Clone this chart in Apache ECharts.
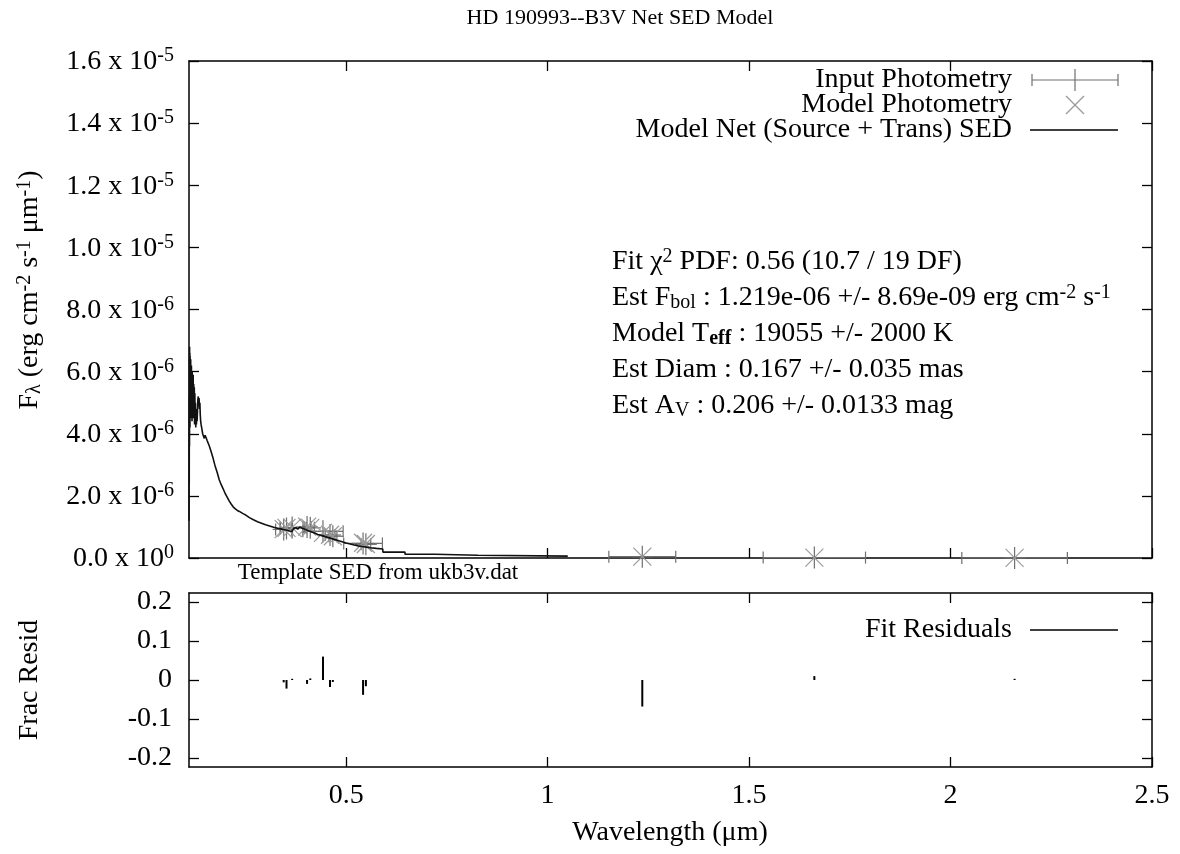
<!DOCTYPE html>
<html>
<head>
<meta charset="utf-8">
<script src="https://cdn.jsdelivr.net/npm/echarts/dist/echarts.min.js"></script>
<style>html,body{margin:0;padding:0;background:#fff}#c{width:1180px;height:854px}</style>
</head>
<body>
<div id="c"></div>
<script>
// ---------- DATA ----------
// Model net SED (wavelength in micron, flux in units of 1e-6 erg cm^-2 s^-1 um^-1)
const sedLam = [0.1100,0.1103,0.1106,0.1109,0.1112,0.1115,0.1118,0.1121,0.1124,0.1127,0.1130,0.1134,0.1138,0.1142,0.1146,0.1150,0.1155,0.1160,0.1165,0.1170,0.1175,0.1180,0.1186,0.1192,0.1198,0.1204,0.1210,0.1217,0.1224,0.1231,0.1238,0.1245,0.1252,0.1260,0.1268,0.1276,0.1284,0.1292,0.1300,0.1310,0.1320,0.1330,0.1340,0.1350,0.1360,0.1370,0.1380,0.1390,0.1400,0.1420,0.1440,0.1460,0.1480,0.150,0.155,0.160,0.165,0.170,0.175,0.180,0.185,0.190,0.195,0.200,0.205,0.210,0.215,0.220,0.225,0.230,0.235,0.240,0.245,0.250,0.260,0.270,0.280,0.290,0.300,0.310,0.320,0.330,0.340,0.350,0.360,0.365,0.370,0.375,0.380,0.385,0.390,0.395,0.400,0.410,0.420,0.430,0.440,0.450,0.460,0.470,0.480,0.490,0.500,0.510,0.520,0.530,0.540,0.550,0.560,0.575,0.591,0.5911,0.646,0.6461,0.720,0.7201,0.827,0.8271,1.050];
const sedFlux = [1.2,5.2,2.4,6.4,3.6,6.8,4.6,6.6,4.2,6.5,4.8,6.3,4.5,6.4,4.9,6.1,4.6,6.2,4.8,5.9,4.4,6.0,4.7,5.8,4.5,5.9,4.7,5.6,4.5,5.5,4.3,5.3,4.4,5.0,4.2,4.8,4.3,4.6,4.4,4.7,5.1,5.2,4.9,5.15,4.8,5.0,4.6,4.4,4.3,4.15,4.0,3.92,3.85,3.95,3.78,3.62,3.42,3.20,2.95,2.75,2.52,2.36,2.22,2.07,1.95,1.83,1.73,1.64,1.58,1.53,1.50,1.46,1.42,1.39,1.30,1.23,1.17,1.12,1.07,1.03,0.99,0.96,0.93,0.90,0.87,0.85,0.95,0.98,0.93,1.00,0.96,0.94,0.91,0.86,0.81,0.76,0.72,0.68,0.64,0.60,0.56,0.52,0.48,0.45,0.42,0.39,0.37,0.35,0.33,0.31,0.29,0.19,0.19,0.12,0.12,0.09,0.09,0.06,0.06];

// Photometry
const photLam   = [0.345, 0.352, 0.366, 0.403, 0.411, 0.4425, 0.460, 0.467, 0.542, 0.549, 1.235, 1.662, 2.159];
const photXErr  = [0.020, 0.015, 0.030, 0.010, 0.010, 0.050,  0.012, 0.010, 0.048, 0.012, 0.083, 0.127, 0.131];
const inputFlux = [0.92,  0.95,  0.98,  1.00,  0.97,  0.86,   0.74,  0.70,  0.47,  0.44,  0.042, 0.013, 0.004];
const modelFlux = [0.93,  0.97,  0.98,  1.01,  0.97,  0.81,   0.75,  0.70,  0.49,  0.45,  0.045, 0.013, 0.004];
const fracResid = [-0.006,-0.022, 0.003,-0.010, 0.004, 0.060, -0.018,-0.005,-0.038,-0.016,-0.068, 0.010, 0.003];

// Tick labels
const waveTicks = [0.5, 1, 1.5, 2, 2.5];
const waveTickLabels = ['0.5', '1', '1.5', '2', '2.5'];
const fluxTicks = [0, 2, 4, 6, 8, 10, 12, 14, 16];
const fluxTickMant = ['0.0', '2.0', '4.0', '6.0', '8.0', '1.0', '1.2', '1.4', '1.6'];
const fluxTickExp  = ['0', '-6', '-6', '-6', '-6', '-5', '-5', '-5', '-5'];
const residTicks = [-0.2, -0.1, 0, 0.1, 0.2];
const residTickLabels = ['-0.2', '-0.1', '0', '0.1', '0.2'];

// ---------- CHART ----------
const FONT = '"Liberation Serif", "DejaVu Serif", serif';
const FS = 28, FSS = 20;
const chart = echarts.init(document.getElementById('c'));

function axisBase(extra) {
  return Object.assign({
    type: 'value',
    axisLine: { show: true, onZero: false, lineStyle: { color: '#000', width: 1.5 } },
    axisTick: { show: true, inside: true, length: 10, lineStyle: { color: '#000', width: 1.3 } },
    splitLine: { show: false },
    minorTick: { show: false },
    axisLabel: { show: false }
  }, extra);
}
const xMin = 0.11, xMax = 2.5;
const xTickCfg = { show: true, inside: true, length: 10, customValues: waveTicks, lineStyle: { color: '#000', width: 1.3 } };

const richBase = {
  n: { fontFamily: FONT, fontSize: FS, fill: '#000', color: '#000', lineHeight: 30, verticalAlign: 'middle' },
  sup: { fontFamily: FONT, fontSize: FSS, fill: '#000', color: '#000', lineHeight: 22, padding: [0, 0, 17, 0], verticalAlign: 'top' },
  sub: { fontFamily: FONT, fontSize: FSS, fill: '#000', color: '#000', lineHeight: 22, padding: [17, 0, 0, 0], verticalAlign: 'bottom' },
  subb: { fontFamily: FONT, fontSize: FSS, fontWeight: 'bold', fill: '#000', color: '#000', lineHeight: 22, padding: [17, 0, 0, 0], verticalAlign: 'bottom' },
  t: { fontFamily: FONT, fontSize: 23, fill: '#000', color: '#000', lineHeight: 26, verticalAlign: 'middle' }
};

function txt(x, y, text, align, extra) {
  return Object.assign({
    type: 'text', x: x, y: y, silent: true,
    style: { text: text, rich: richBase, fill: '#000', font: FS + 'px ' + FONT, textAlign: align || 'left', textVerticalAlign: 'middle' }
  }, extra || {});
}
function gline(x1, y1, x2, y2, color, w) {
  return { type: 'line', silent: true, shape: { x1: x1, y1: y1, x2: x2, y2: y2 }, style: { stroke: color, lineWidth: w } };
}

const GRAY_IN = '#6f6f6f', GRAY_MOD = '#9a9a9a';

const option = {
  animation: false,
  backgroundColor: '#fff',
  grid: [
    { left: 189, top: 61, width: 963, height: 497 },
    { left: 189, top: 593, width: 963, height: 174 }
  ],
  xAxis: [
    axisBase({ gridIndex: 0, position: 'bottom', min: xMin, max: xMax, axisTick: xTickCfg }),
    axisBase({ gridIndex: 0, position: 'top', min: xMin, max: xMax, axisTick: xTickCfg }),
    axisBase({ gridIndex: 1, position: 'bottom', min: xMin, max: xMax, axisTick: xTickCfg,
      axisLabel: { show: true, customValues: waveTicks, margin: 15, fontFamily: FONT, fontSize: FS, color: '#000',
        formatter: function (v) { const i = waveTicks.findIndex(t => Math.abs(t - v) < 1e-9); return i >= 0 ? waveTickLabels[i] : ''; } } }),
    axisBase({ gridIndex: 1, position: 'top', min: xMin, max: xMax, axisTick: xTickCfg })
  ],
  yAxis: [
    axisBase({ gridIndex: 0, position: 'left', min: 0, max: 16, interval: 2,
      axisLabel: { show: true, margin: 15, align: 'right',
        formatter: function (v) { const i = fluxTicks.findIndex(t => Math.abs(t - v) < 1e-9); return i >= 0 ? '{m|' + fluxTickMant[i] + ' x 10}{s|' + fluxTickExp[i] + '}' : ''; },
        rich: {
          m: { fontFamily: FONT, fontSize: FS, color: '#000', lineHeight: 30, verticalAlign: 'bottom' },
          s: { fontFamily: FONT, fontSize: FSS, color: '#000', lineHeight: 22, padding: [0, 0, 14, 0], verticalAlign: 'top' }
        } } }),
    axisBase({ gridIndex: 0, position: 'right', min: 0, max: 16, interval: 2 }),
    axisBase({ gridIndex: 1, position: 'left', min: -0.223, max: 0.223,
      axisTick: { show: true, inside: true, length: 10, customValues: residTicks, lineStyle: { color: '#000', width: 1.3 } },
      axisLabel: { show: true, customValues: residTicks, margin: 17, fontFamily: FONT, fontSize: FS, color: '#000',
        formatter: function (v) { const i = residTicks.findIndex(t => Math.abs(t - v) < 1e-9); return i >= 0 ? residTickLabels[i] : ''; } } }),
    axisBase({ gridIndex: 1, position: 'right', min: -0.223, max: 0.223,
      axisTick: { show: true, inside: true, length: 10, customValues: residTicks, lineStyle: { color: '#000', width: 1.3 } } })
  ],
  series: [
    { // Input photometry: horizontal error bars with caps + plus point
      type: 'custom', xAxisIndex: 0, yAxisIndex: 0, clip: false, z: 2,
      data: photLam.map((l, i) => [l, inputFlux[i], photXErr[i]]),
      encode: { x: 0, y: 1 },
      renderItem: function (params, api) {
        const x = api.value(0), y = api.value(1), e = api.value(2);
        const c = api.coord([x, y]), l = api.coord([x - e, y]), r = api.coord([x + e, y]);
        const st = { stroke: GRAY_IN, lineWidth: 1.2 };
        return { type: 'group', children: [
          { type: 'line', shape: { x1: l[0], y1: l[1], x2: r[0], y2: r[1] }, style: st },
          { type: 'line', shape: { x1: l[0], y1: l[1] - 6, x2: l[0], y2: l[1] + 6 }, style: st },
          { type: 'line', shape: { x1: r[0], y1: r[1] - 6, x2: r[0], y2: r[1] + 6 }, style: st },
          { type: 'line', shape: { x1: c[0], y1: c[1] - 11, x2: c[0], y2: c[1] + 11 }, style: st },
          { type: 'line', shape: { x1: c[0] - 11, y1: c[1], x2: c[0] + 11, y2: c[1] }, style: st }
        ] };
      }
    },
    { // Model photometry: x marks
      type: 'custom', xAxisIndex: 0, yAxisIndex: 0, clip: false, z: 3,
      data: photLam.map((l, i) => [l, modelFlux[i]]),
      encode: { x: 0, y: 1 },
      renderItem: function (params, api) {
        const c = api.coord([api.value(0), api.value(1)]);
        const s = 9, st = { stroke: GRAY_MOD, lineWidth: 1.2 };
        return { type: 'group', children: [
          { type: 'line', shape: { x1: c[0] - s, y1: c[1] - s, x2: c[0] + s, y2: c[1] + s }, style: st },
          { type: 'line', shape: { x1: c[0] - s, y1: c[1] + s, x2: c[0] + s, y2: c[1] - s }, style: st }
        ] };
      }
    },
    { // Model net SED
      type: 'line', xAxisIndex: 0, yAxisIndex: 0, z: 4,
      data: sedLam.map((l, i) => [l, sedFlux[i]]),
      showSymbol: false, symbol: 'none', smooth: false,
      lineStyle: { color: '#111', width: 1.6 }
    },
    { // Fit residuals: impulses
      type: 'custom', xAxisIndex: 2, yAxisIndex: 2, clip: true, z: 4,
      data: photLam.map((l, i) => [l, fracResid[i]]),
      encode: { x: 0, y: 1 },
      renderItem: function (params, api) {
        const x = api.value(0), y = api.value(1);
        const a = api.coord([x, 0]), b = api.coord([x, y]);
        return { type: 'line', shape: { x1: a[0], y1: a[1], x2: b[0], y2: b[1] }, style: { stroke: '#000', lineWidth: 2 } };
      }
    }
  ],
  graphic: [
    { type: 'text', x: 620, y: 18, silent: true, style: { text: 'HD 190993--B3V Net SED Model', fill: '#000', font: '22px ' + FONT, textAlign: 'center', textVerticalAlign: 'middle' } },
    // legend, top plot
    txt(1012, 80, '{n|Input Photometry}', 'right'),
    txt(1012, 105, '{n|Model Photometry}', 'right'),
    txt(1012, 130, '{n|Model Net (Source + Trans) SED}', 'right'),
    gline(1032, 80, 1118, 80, GRAY_IN, 1.2),
    gline(1032, 74, 1032, 86, GRAY_IN, 1.2),
    gline(1118, 74, 1118, 86, GRAY_IN, 1.2),
    gline(1075, 69, 1075, 91, GRAY_IN, 1.2),
    gline(1066, 96, 1084, 114, GRAY_MOD, 1.2),
    gline(1066, 114, 1084, 96, GRAY_MOD, 1.2),
    gline(1030, 130, 1118, 130, '#000', 1.6),
    // fit annotations
    txt(612, 262, '{n|Fit χ}{sup|2}{n| PDF: 0.56 (10.7 / 19 DF)}'),
    txt(612, 298, '{n|Est F}{sub|bol}{n| : 1.219e-06 +/- 8.69e-09 erg cm}{sup|-2}{n| s}{sup|-1}'),
    txt(612, 334, '{n|Model T}{subb|eff}{n| : 19055 +/- 2000 K}'),
    txt(612, 370, '{n|Est Diam : 0.167 +/- 0.035 mas}'),
    txt(612, 406, '{n|Est A}{sub|V}{n| : 0.206 +/- 0.0133 mag}'),
    // between plots
    txt(378, 573, '{t|Template SED from ukb3v.dat}', 'center'),
    // legend, bottom plot
    txt(1012, 630, '{n|Fit Residuals}', 'right'),
    gline(1030, 630, 1118, 630, '#000', 1.6),
    // axis titles
    txt(30, 290, '{n|F}{sub|λ}{n| (erg cm}{sup|-2}{n| s}{sup|-1}{n| μm}{sup|-1}{n|)}', 'center', { rotation: Math.PI / 2 }),
    txt(30, 680, '{n|Frac Resid}', 'center', { rotation: Math.PI / 2 }),
    txt(670, 833, '{n|Wavelength (μm)}', 'center')
  ]
};
chart.setOption(option);
</script>
</body>
</html>
